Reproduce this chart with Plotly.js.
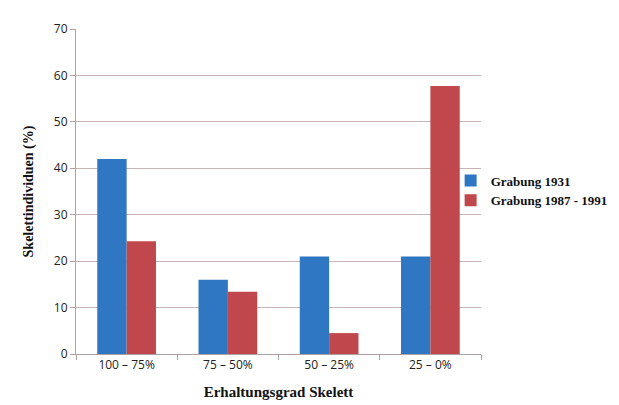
<!DOCTYPE html>
<html>
<head>
<meta charset="utf-8">
<script src="https://cdn.plot.ly/plotly-3.0.1.min.js"></script>
<style>html,body{margin:0;padding:0;background:#fff;}#chart{width:619px;height:405px;}</style>
</head>
<body>
<div id="chart"></div>
<script>
var categories = ["100 – 75%", "75 – 50%", "50 – 25%", "25 – 0%"];
var grabung1931 = [42, 16, 21, 21];
var grabung1987 = [24.3, 13.4, 4.5, 57.7];
var seriesNames = ["Grabung 1931", "Grabung 1987 - 1991"];
var yTicks = [0, 10, 20, 30, 40, 50, 60, 70];

var traces = [
  {type: "bar", name: "<b>" + seriesNames[0] + "</b>", x: categories, y: grabung1931, marker: {color: "#2f77c3"}},
  {type: "bar", name: "<b>" + seriesNames[1] + "</b>", x: categories, y: grabung1987, marker: {color: "#c0484d"}}
];

var layout = {
  width: 619, height: 405,
  margin: {l: 76, r: 138, t: 29, b: 51, autoexpand: false},
  paper_bgcolor: "#ffffff", plot_bgcolor: "#ffffff",
  barmode: "group", bargap: 0.42, bargroupgap: 0,
  font: {family: "Liberation Sans, Arial, sans-serif", size: 11, color: "#333333"},
  xaxis: {
    type: "category", showgrid: false, showline: true, linecolor: "#b0a0a0", linewidth: 1,
    ticks: "outside", tickson: "boundaries", ticklen: 5, tickcolor: "#b0a0a0",
    tickfont: {family: "Open Sans, Liberation Sans, sans-serif", size: 12, color: "#222222"},
    title: {text: "<b>Erhaltungsgrad Skelett</b>", font: {family: "Liberation Serif, Times New Roman, serif", size: 15, color: "#111111"}, standoff: 14}
  },
  yaxis: {
    range: [0, 70], tickvals: yTicks, showgrid: true, gridcolor: "#c8b4b4", gridwidth: 1,
    showline: true, linecolor: "#b0a0a0", linewidth: 1, zeroline: false,
    ticks: "outside", ticklen: 5, tickcolor: "#b0a0a0",
    tickfont: {family: "Open Sans, Liberation Sans, sans-serif", size: 12, color: "#222222"},
    title: {text: "<b>Skelettindividuen (%)</b>", font: {family: "Liberation Serif, Times New Roman, serif", size: 14, color: "#111111"}, standoff: 16}
  },
  legend: {
    x: 0.925, xanchor: "left", y: 0.58, yanchor: "top",
    font: {family: "Liberation Serif, Times New Roman, serif", size: 13, color: "#111111"},
    itemwidth: 30, bgcolor: "rgba(0,0,0,0)"
  },
  showlegend: true
};

Plotly.newPlot("chart", traces, layout, {displayModeBar: false, staticPlot: true});
</script>
</body>
</html>
